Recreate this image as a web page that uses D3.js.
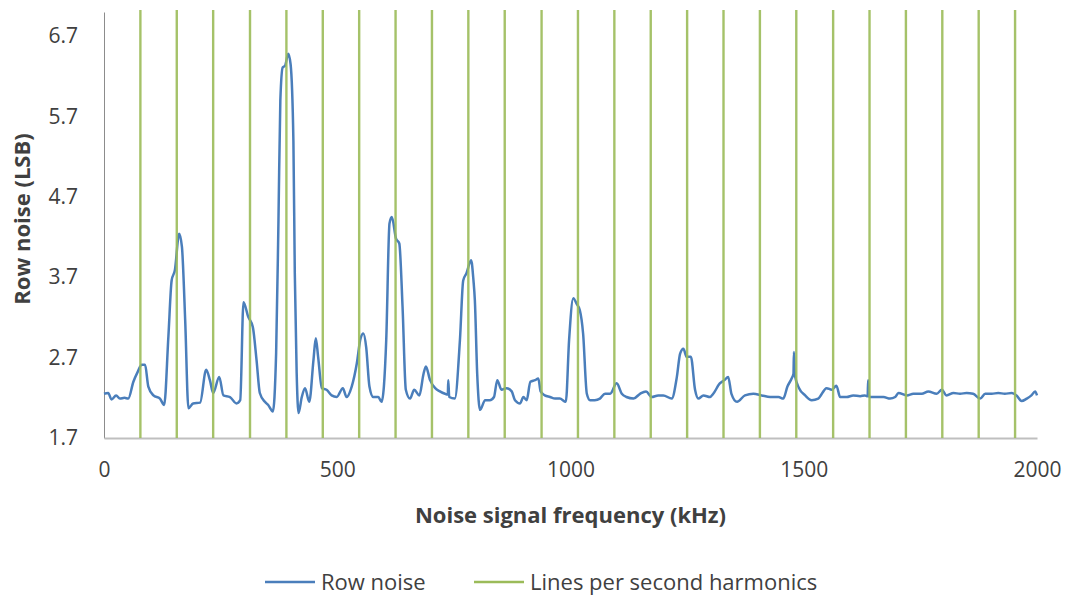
<!DOCTYPE html>
<html>
<head>
<meta charset="utf-8">
<script src="https://cdn.jsdelivr.net/npm/d3@7"></script>
<style>
  body { margin: 0; background: #fff; }
  text { font-family: "Open Sans", sans-serif; fill: #404040; }
</style>
</head>
<body>
<div id="chart"></div>
<script>
// row noise: frequency (kHz) and noise (LSB)
var freqs = [0, 9, 16, 26, 34, 44, 52, 63, 72, 81, 88, 95, 106, 120, 129, 138, 145, 152, 161, 167,
  174, 181, 191, 206, 219, 227, 234, 247, 256, 270, 284, 292, 299, 309, 319, 327, 334, 345, 352, 362,
  369, 374, 378, 383, 388, 395, 400, 406, 409, 413, 417, 424, 431, 440, 449, 454, 459, 467, 477, 488,
  499, 512, 520, 531, 542, 550, 556, 562, 569, 577, 588, 595, 605, 612, 617, 626, 633, 640, 647, 656,
  665, 676, 685, 690, 699, 710, 720, 731, 737, 738, 740, 752, 763, 770, 777, 787, 792, 795, 800, 806,
  817, 827, 836, 843, 852, 863, 874, 881, 892, 899, 906, 914, 924, 931, 936, 945, 956, 967, 977, 990,
  997, 1006, 1013, 1020, 1027, 1035, 1042, 1052, 1063, 1074, 1085, 1099, 1110, 1120, 1135, 1149, 1162, 1174, 1188, 1199,
  1217, 1228, 1235, 1242, 1249, 1258, 1267, 1274, 1285, 1299, 1306, 1320, 1330, 1338, 1345, 1357, 1374, 1392, 1410, 1428,
  1446, 1456, 1465, 1474, 1478, 1479, 1481, 1490, 1503, 1517, 1531, 1549, 1560, 1570, 1578, 1592, 1606, 1621, 1631, 1637,
  1638, 1640, 1656, 1671, 1685, 1696, 1703, 1721, 1735, 1753, 1767, 1785, 1796, 1806, 1821, 1835, 1849, 1863, 1878, 1889,
  1903, 1917, 1931, 1946, 1956, 1967, 1978, 1988, 1996, 2000];
var rowNoise = [2.25, 2.26, 2.18, 2.23, 2.19, 2.20, 2.19, 2.40, 2.52, 2.61, 2.61, 2.34, 2.23, 2.19, 2.11, 2.96, 3.66, 3.79, 4.24, 4.08,
  3.17, 2.07, 2.13, 2.14, 2.55, 2.42, 2.26, 2.46, 2.23, 2.21, 2.13, 2.17, 3.39, 3.21, 3.08, 2.67, 2.26, 2.15, 2.11, 2.03,
  2.76, 4.41, 5.90, 6.31, 6.33, 6.48, 6.35, 5.40, 3.75, 2.51, 2.01, 2.21, 2.32, 2.15, 2.67, 2.94, 2.71, 2.32, 2.30, 2.23,
  2.21, 2.32, 2.21, 2.34, 2.63, 2.94, 3.00, 2.83, 2.34, 2.21, 2.21, 2.15, 2.92, 4.37, 4.45, 4.18, 4.12, 3.33, 2.30, 2.19,
  2.30, 2.23, 2.50, 2.59, 2.42, 2.32, 2.28, 2.25, 2.24, 2.42, 2.21, 2.19, 2.92, 3.66, 3.75, 3.91, 3.66, 3.41, 2.50, 2.05,
  2.17, 2.17, 2.21, 2.42, 2.30, 2.32, 2.28, 2.17, 2.13, 2.21, 2.17, 2.40, 2.42, 2.44, 2.28, 2.23, 2.21, 2.19, 2.19, 2.15,
  2.92, 3.44, 3.37, 3.29, 3.00, 2.25, 2.17, 2.17, 2.19, 2.25, 2.25, 2.38, 2.25, 2.21, 2.19, 2.25, 2.28, 2.21, 2.23, 2.23,
  2.19, 2.46, 2.75, 2.81, 2.71, 2.71, 2.30, 2.19, 2.23, 2.21, 2.25, 2.38, 2.42, 2.46, 2.25, 2.15, 2.23, 2.25, 2.23, 2.21,
  2.21, 2.19, 2.34, 2.44, 2.50, 2.77, 2.48, 2.32, 2.23, 2.17, 2.19, 2.32, 2.30, 2.35, 2.21, 2.21, 2.23, 2.22, 2.23, 2.22,
  2.42, 2.21, 2.21, 2.21, 2.19, 2.21, 2.26, 2.23, 2.25, 2.25, 2.28, 2.25, 2.30, 2.23, 2.26, 2.25, 2.26, 2.25, 2.19, 2.25,
  2.25, 2.26, 2.25, 2.26, 2.23, 2.16, 2.19, 2.23, 2.28, 2.23];

// lines-per-second harmonics (kHz)
var harmonics = [78, 156, 234, 313, 391, 469, 547, 625, 703, 781, 859, 938, 1016,
  1094, 1172, 1250, 1328, 1406, 1484, 1563, 1641, 1719, 1797, 1875, 1953];

var xTicks = [0, 500, 1000, 1500, 2000];
var yTicks = [1.7, 2.7, 3.7, 4.7, 5.7, 6.7];

var W = 1074, H = 599,
  margin = { top: 12, right: 37, bottom: 161, left: 104 },
  width = W - margin.left - margin.right,
  height = H - margin.top - margin.bottom,
  blue = "#4a7ebb",
  green = "#9bbb59";

var svg = d3.select("#chart").append("svg")
  .attr("width", W)
  .attr("height", H);

var g = svg.append("g")
  .attr("transform", "translate(" + margin.left + "," + margin.top + ")");

var x = d3.scaleLinear().domain([0, 2000]).range([0, width]),
  y = d3.scaleLinear().domain([1.7, 7.0]).range([height, 0]);

// axes: no tick marks, just the labels
var yAxis = g.append("g")
  .attr("class", "y axis")
  .call(d3.axisLeft(y).tickValues(yTicks).tickSize(0).tickPadding(26).tickFormat(d3.format(".1f")));
yAxis.select(".domain").attr("stroke", "#8c8c8c");
yAxis.selectAll("text").style("font-size", "21px").attr("fill", "#404040");

var xAxis = g.append("g")
  .attr("class", "x axis")
  .attr("transform", "translate(0," + height + ")")
  .call(d3.axisBottom(x).tickValues(xTicks).tickSize(0).tickPadding(24).tickFormat(d3.format("d")));
xAxis.select(".domain").attr("stroke", "#bfbfbf").attr("stroke-width", 2);
xAxis.selectAll("text").style("font-size", "21px").attr("fill", "#404040");

// row noise line
var pts = freqs.map(function(f, i) { return { f: f, v: rowNoise[i] }; });
var line = d3.line()
  .curve(d3.curveMonotoneX)
  .x(function(d) { return x(d.f); })
  .y(function(d) { return y(d.v); });

g.append("path")
  .datum(pts)
  .attr("fill", "none")
  .attr("stroke", blue)
  .attr("stroke-width", 2.5)
  .attr("stroke-linejoin", "round")
  .attr("d", line);

// harmonic markers on top
g.selectAll(".harm")
  .data(harmonics)
  .enter().append("line")
  .attr("class", "harm")
  .attr("x1", function(d) { return x(d); })
  .attr("x2", function(d) { return x(d); })
  .attr("y1", y(7.0) - 2)
  .attr("y2", y(1.7))
  .attr("stroke", green)
  .attr("stroke-opacity", 0.9)
  .attr("stroke-width", 2.4);

// axis titles
svg.append("text")
  .attr("x", margin.left + width / 2)
  .attr("y", 523)
  .attr("text-anchor", "middle")
  .style("font-size", "22px")
  .style("font-weight", "bold")
  .text("Noise signal frequency (kHz)");

svg.append("text")
  .attr("transform", "translate(30," + (margin.top + height / 2 - 6) + ") rotate(-90)")
  .attr("text-anchor", "middle")
  .style("font-size", "22px")
  .style("font-weight", "bold")
  .text("Row noise (LSB)");

// legend
var legendItems = [
  { name: "Row noise", color: blue, x: 265 },
  { name: "Lines per second harmonics", color: green, x: 474 }
];
var keys = svg.selectAll(".key")
  .data(legendItems)
  .enter().append("g")
  .attr("class", "key")
  .attr("transform", function(d) { return "translate(" + d.x + ",582)"; });
keys.append("line")
  .attr("x1", 0).attr("x2", 50)
  .attr("stroke", function(d) { return d.color; })
  .attr("stroke-width", 2.5);
keys.append("text")
  .attr("x", 56)
  .attr("dy", "0.35em")
  .style("font-size", "22px")
  .text(function(d) { return d.name; });
</script>
</body>
</html>
